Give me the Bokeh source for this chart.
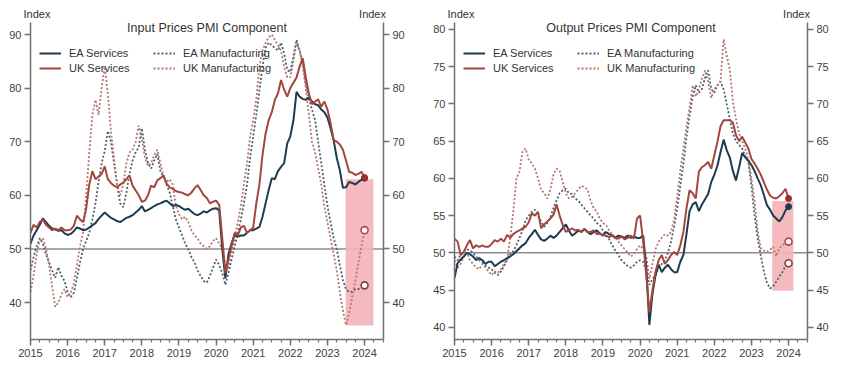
import numpy as np
import pandas as pd
from bokeh.plotting import figure
from bokeh.models import (ColumnDataSource, LinearAxis, FixedTicker, Span, Label,
                          Legend, LegendItem, Range1d, Title)
from bokeh.layouts import row
from bokeh.embed import file_html
from bokeh.resources import INLINE

# ---------------- data (monthly, Jan 2015 .. Jan 2024) ----------------
dates = pd.date_range("2015-01-01", "2024-01-01", freq="MS")
xdec = (dates.year + (dates.month - 1) / 12.0).to_numpy()

year_ticks = list(range(2015, 2025))
quarter_ticks = [2015 + q / 4 for q in range(0, 39)]

# Input prices PMI component
ea_serv_in = [
    51.0, 52.5, 53.5, 54.5, 55.7, 55.0, 54.3, 53.8, 53.6, 53.4, 53.5, 52.9,
    52.6, 52.8, 53.3, 54.0, 53.8, 53.5, 53.6, 54.0, 54.4, 54.8, 55.6, 56.2,
    56.8, 56.3, 55.8, 55.5, 55.2, 55.0, 55.4, 55.8, 56.0, 56.3, 56.8, 57.3,
    58.0, 57.0, 57.3, 57.6, 58.0, 58.3, 58.5, 58.8, 59.0, 58.5, 58.0, 58.2,
    58.0, 57.6, 57.3, 57.5, 57.0, 56.5, 56.3, 56.6, 57.0, 56.8, 57.2, 57.5,
    57.6, 57.2, 50.0, 44.5, 49.0, 51.0, 52.7, 52.3, 52.5, 52.5, 53.0, 53.5,
    53.5, 53.8, 54.1, 56.0, 58.5, 61.0, 63.2, 63.0, 64.5, 65.3, 66.0, 69.7,
    71.0, 74.0, 79.3, 78.4, 78.0, 77.8, 78.2, 77.5, 77.0, 76.8, 76.0, 75.5,
    74.5, 72.5, 70.3, 67.0, 64.7, 61.4, 61.5, 62.5, 62.3, 62.0, 62.5, 62.9,
    63.2]
uk_serv_in = [
    53.0, 54.5, 54.0, 55.0, 55.5, 54.5, 54.0, 53.5, 53.8, 53.5, 54.0, 53.5,
    53.5, 53.6, 54.3, 56.2, 55.5, 55.0, 57.5, 62.0, 64.5, 63.0, 63.5, 64.0,
    65.4, 63.0, 62.3, 61.8, 61.5, 62.0, 62.4, 63.0, 63.7, 61.8, 60.9, 60.0,
    58.8, 59.0, 60.0, 61.8, 61.5, 62.8, 63.2, 63.7, 62.2, 61.5, 61.2, 60.8,
    60.6, 60.5, 60.2, 60.0, 60.5, 61.3, 61.9, 61.0, 60.0, 59.5, 58.5, 58.8,
    59.0, 58.2, 52.0, 45.5, 48.0, 50.5, 53.0, 52.5, 54.0, 54.3, 53.0, 53.5,
    54.0, 58.5, 62.0, 67.5, 71.5, 74.0, 75.5, 77.8, 79.0, 81.5, 79.7, 78.4,
    80.0, 81.0, 82.0, 84.0, 85.6, 82.0, 79.0, 77.0, 77.5, 77.9, 76.5, 77.5,
    76.0, 73.5, 70.3, 70.0, 69.5, 68.5, 66.5, 64.4, 64.2, 63.8, 64.0, 64.4,
    63.3]
ea_mfg_in = [
    46.0, 48.5, 50.5, 52.0, 51.0, 49.0, 47.5, 46.0, 44.6, 46.6, 45.0, 44.0,
    42.0, 41.0, 41.8, 44.5, 47.5, 50.0, 51.5, 53.0, 55.5, 58.5, 62.5, 66.0,
    68.3, 72.0, 70.0, 66.0, 62.0, 58.5, 57.8, 60.5, 64.0, 66.5, 68.0, 69.0,
    72.5, 68.5, 66.0, 65.0, 66.5, 67.7, 64.5, 63.5, 62.0, 60.5, 58.0, 55.5,
    54.0, 52.5, 51.0, 50.0, 48.5, 47.5, 46.0, 45.0, 44.0, 43.7, 45.0, 46.5,
    48.0, 47.0, 45.5, 43.3, 45.5, 48.0, 50.5, 53.0, 55.5, 58.5, 62.0, 67.0,
    71.0, 75.0, 79.5, 84.0, 87.5, 88.5, 88.0, 87.5, 87.0, 88.5, 86.5, 83.4,
    83.0, 86.0, 89.0, 87.0, 85.0, 81.0, 78.0, 76.0, 74.0, 70.0, 66.0, 62.0,
    58.0, 55.0, 52.0, 50.0, 47.0, 44.2, 42.5, 42.0, 42.0, 42.5, 42.5, 42.8,
    43.2]
uk_mfg_in = [
    42.0, 45.0, 49.0, 51.5, 52.0, 50.0, 47.0, 43.0, 39.2, 40.0, 41.5, 42.5,
    41.0, 41.8, 43.5, 47.0, 50.5, 53.0, 60.0, 68.0, 75.0, 77.8, 75.0, 80.0,
    84.0, 79.0, 72.0, 67.0, 62.0, 60.0, 62.0, 66.0, 68.0, 68.5, 70.0, 73.0,
    70.5, 67.0, 65.5, 66.0, 67.5, 68.5, 66.0, 63.5, 62.5, 63.0, 62.0, 58.0,
    56.5, 55.5, 56.0, 55.0, 53.5, 52.5, 52.0, 51.0, 50.5, 50.0, 50.5, 51.5,
    52.0, 51.0, 50.0, 47.0, 46.5, 49.0, 52.0, 55.0, 58.0, 62.0, 66.0, 71.0,
    74.0, 78.0, 84.0, 87.0, 88.5, 89.5, 90.0, 89.0, 88.0, 87.0, 84.0, 82.0,
    82.0, 85.0, 88.5, 87.0, 84.0, 80.0, 75.0, 70.0, 68.0, 65.0, 62.0, 58.0,
    55.0, 52.0, 49.0, 46.0, 42.0, 38.5, 35.8, 38.0, 41.0, 44.0, 47.5, 50.5,
    53.5]

# Output prices PMI component
ea_serv_out = [
    46.6, 48.6, 49.1, 49.5, 50.0, 49.8, 49.5, 49.0, 49.3, 49.0, 48.5, 48.8,
    48.8, 48.2, 48.5, 48.8, 49.0, 49.3, 49.5, 49.8, 50.2, 50.6, 51.0, 51.3,
    52.0, 52.5, 53.1, 52.4, 51.8, 51.6, 51.9, 52.3, 52.0, 52.3, 52.8, 53.3,
    53.8, 53.0, 52.3, 52.6, 53.0, 52.8, 53.2, 52.8, 52.5, 52.8, 53.0, 52.6,
    52.3, 52.8, 52.5, 52.3, 52.0, 52.3, 52.2, 52.0, 52.3, 52.0, 52.2, 52.0,
    52.0, 52.3, 48.0, 40.3, 44.5, 47.0, 48.4, 47.4, 48.0, 48.4, 47.8, 47.4,
    47.4, 48.8, 49.7, 52.5, 55.6, 56.5, 56.8, 55.6, 56.5, 57.2, 57.9, 59.5,
    60.5, 61.7, 63.5, 65.2, 63.8, 62.8, 61.0, 59.7, 61.5, 63.4, 62.8, 62.4,
    61.8, 61.0, 60.0, 59.1, 57.8, 56.4, 55.8, 55.0, 54.6, 54.2, 54.8, 55.7,
    56.2]
uk_serv_out = [
    51.9, 51.5, 49.7, 50.1, 51.0, 51.7, 50.6, 51.0, 50.8, 51.0, 50.8, 50.8,
    51.2, 51.7, 51.5, 51.9, 51.5, 52.4, 52.0, 52.5, 52.8, 53.0, 53.3, 53.5,
    54.1, 55.3, 55.0, 55.5, 53.3, 53.8, 54.2, 54.6, 55.1, 56.5, 55.0, 53.7,
    52.8, 53.0, 53.3, 53.0, 53.1, 52.8, 53.2, 52.8, 52.8, 53.0, 52.5, 52.6,
    52.4, 52.3, 52.1, 52.4, 52.0, 51.9, 52.2, 51.8, 52.0, 52.3, 51.9, 54.6,
    55.0, 51.5, 47.0, 42.0, 45.0, 47.5, 49.0, 49.7, 48.5, 49.0, 49.7, 50.1,
    49.7, 51.0, 52.8, 56.0, 58.4, 58.0, 57.3, 60.9, 61.5, 61.8, 62.2, 61.3,
    63.1, 64.9, 67.0, 67.8, 67.8, 67.8, 67.5, 65.8, 65.0, 65.6, 64.8, 64.0,
    62.6, 62.0, 61.3, 60.5, 59.5, 58.5, 57.7, 57.4, 57.3, 57.6, 58.0, 58.6,
    57.3]
ea_mfg_out = [
    49.5, 49.0, 49.8, 50.2, 50.5, 50.3, 50.0, 49.5, 49.0, 48.7, 48.3, 48.0,
    47.8, 47.3, 47.0, 47.5, 48.2, 49.0, 49.8, 50.2, 51.0, 52.0, 53.0, 54.4,
    55.0, 55.5, 55.8, 55.0, 54.2, 53.5, 54.0, 54.8, 56.0, 57.0, 58.0, 58.4,
    58.6, 58.0, 57.9, 57.3, 57.0, 56.5, 56.0, 55.5, 55.0, 54.6, 54.0, 53.7,
    53.0, 52.3, 51.8, 51.0, 50.3, 49.7, 49.0, 48.6, 48.2, 48.0, 48.3, 48.8,
    49.0, 48.8, 47.5, 45.7, 46.5, 47.0, 48.0, 48.5, 49.0, 50.0, 51.5, 53.5,
    56.0, 59.0, 62.0, 65.5, 68.5, 71.0, 72.5, 71.5, 72.0, 73.5, 74.5, 72.0,
    71.5, 72.5, 73.0, 72.0, 70.0, 68.0, 66.0, 65.0, 64.5, 64.0, 63.0, 62.2,
    59.0, 55.0, 52.0, 49.7, 47.5, 46.0, 45.2, 45.5, 46.1, 46.8, 47.4, 48.2,
    48.6]
uk_mfg_out = [
    49.0, 48.0, 48.5, 49.5, 50.0, 49.0, 48.5, 48.0, 47.8, 48.5, 48.0, 47.5,
    47.0, 47.5, 47.3, 47.8, 48.5, 49.0, 52.0, 55.5, 60.0, 60.9, 63.6, 64.0,
    62.5, 62.0, 61.3, 60.0, 58.5, 58.0, 57.3, 58.5, 60.5, 61.3, 61.0, 59.5,
    58.0, 57.3, 57.5, 58.0, 58.5, 59.0, 58.8, 58.5, 57.0, 56.0, 55.5, 54.6,
    54.0, 53.7, 53.0, 52.5, 52.0, 51.5, 51.0, 50.5, 50.0, 49.5, 49.8, 50.5,
    51.0, 50.5, 49.5, 46.5, 48.5, 50.5, 51.5, 52.0, 52.5, 52.3, 52.8, 54.5,
    57.5, 61.0, 64.0, 67.0, 69.5, 72.5, 71.0, 72.0, 73.4, 74.5, 73.0, 70.8,
    72.0, 72.5, 73.0, 78.7, 76.5, 74.6, 70.3, 68.0, 66.0, 65.0, 64.0, 62.5,
    60.0, 57.0, 53.0, 50.6, 50.3, 50.1, 50.4, 50.8, 49.5, 50.6, 51.0, 51.3,
    51.5]

# shaded recent-range boxes [x0, x1], [y0, y1]
in_shade_x = [2023.49, 2024.24]
in_shade_y = [35.7, 63.0]
out_shade_x = [2023.56, 2024.13]
out_shade_y = [44.9, 56.95]

in_yticks = [40, 50, 60, 70, 80, 90]
out_yticks = [40, 45, 50, 55, 60, 65, 70, 75, 80]
axis_caption = "Index"

# ---------------- styling ----------------
FONT = "Liberation Sans"
C_EA_S = "#1f3b4f"
C_UK_S = "#a3463f"
C_EA_M = "#4b6170"
C_UK_M = "#b5776f"
AX = "#707070"
SHADE = "#f4b3b7"
NBSP = "\u00a0"


def style_axis(ax):
    ax.axis_line_color = AX
    ax.axis_line_width = 1.5
    ax.major_tick_line_color = AX
    ax.major_tick_line_width = 1.5
    ax.minor_tick_line_color = AX
    ax.minor_tick_line_width = 1.2
    ax.major_tick_in = 0
    ax.major_tick_out = 6
    ax.minor_tick_in = 0
    ax.minor_tick_out = 3
    ax.major_label_text_font = FONT
    ax.major_label_text_font_size = "11px"
    ax.major_label_text_color = "#3f3f3f"
    ax.major_label_standoff = 3


def make_panel(title, series, yr, yticks, shade_x, shade_y, left_border, right_border):
    ea_s, uk_s, ea_m, uk_m = series
    head = Title(text=axis_caption + NBSP * 101 + axis_caption, align="left", offset=-7,
                 text_font=FONT, text_font_size="11px", text_font_style="normal",
                 text_color="#333333", standoff=5, vertical_align="bottom")
    p = figure(frame_width=353, frame_height=317,
               x_range=Range1d(2015, 2024.51), y_range=Range1d(*yr),
               output_backend="svg", toolbar_location=None, title=head,
               min_border_left=left_border, min_border_right=right_border,
               min_border_top=22, min_border_bottom=22)
    p.xgrid.visible = False
    p.ygrid.visible = False
    p.outline_line_color = None
    p.background_fill_color = "white"
    p.border_fill_color = "white"

    p.xaxis.ticker = FixedTicker(ticks=year_ticks, minor_ticks=quarter_ticks)
    p.yaxis.ticker = FixedTicker(ticks=yticks)
    style_axis(p.xaxis[0])
    style_axis(p.yaxis[0])
    rax = LinearAxis(ticker=FixedTicker(ticks=yticks))
    style_axis(rax)
    p.add_layout(rax, "right")

    # shaded range
    p.quad(left=[shade_x[0]], right=[shade_x[1]], bottom=[shade_y[0]], top=[shade_y[1]],
           fill_color=SHADE, fill_alpha=0.9, line_color=None)

    p.add_layout(Span(location=50, dimension="width", line_color="#8c8c8c",
                      line_width=1.5, level="underlay"))

    src = ColumnDataSource(dict(x=xdec, ea_s=ea_s, uk_s=uk_s, ea_m=ea_m, uk_m=uk_m))
    r_eam = p.line("x", "ea_m", source=src, line_color=C_EA_M, line_width=1.8, line_dash="2 2")
    r_ukm = p.line("x", "uk_m", source=src, line_color=C_UK_M, line_width=1.8, line_dash="2 2")
    r_eas = p.line("x", "ea_s", source=src, line_color=C_EA_S, line_width=2.0)
    r_uks = p.line("x", "uk_s", source=src, line_color=C_UK_S, line_width=2.0)

    # latest observations
    p.scatter(x=[xdec[-1]], y=[ea_m[-1]], size=7, marker="circle", fill_color="white",
              line_color="#8a3b3b", line_width=1.6)
    p.scatter(x=[xdec[-1]], y=[uk_m[-1]], size=7, marker="circle", fill_color="white",
              line_color="#b04848", line_width=1.6)
    p.scatter(x=[xdec[-1]], y=[ea_s[-1]], size=6, marker="circle", fill_color=C_EA_S,
              line_color=C_EA_S)
    p.scatter(x=[xdec[-1]], y=[uk_s[-1]], size=6, marker="circle", fill_color="#9e2f2f",
              line_color="#9e2f2f")

    def legend(items, xloc):
        lg = Legend(items=items, location=(xloc, 264), orientation="vertical")
        lg.background_fill_alpha = 0
        lg.border_line_color = None
        lg.padding = 0
        lg.margin = 0
        lg.spacing = 1
        lg.glyph_width = 22
        lg.glyph_height = 14
        lg.label_height = 14
        lg.label_standoff = 8
        lg.label_text_font = FONT
        lg.label_text_font_size = "11px"
        lg.label_text_color = "#333333"
        lg.label_text_baseline = "middle"
        return lg

    p.add_layout(legend([LegendItem(label="EA Services", renderers=[r_eas]),
                         LegendItem(label="UK Services", renderers=[r_uks])], 9))
    p.add_layout(legend([LegendItem(label="EA Manufacturing", renderers=[r_eam]),
                         LegendItem(label="UK Manufacturing", renderers=[r_ukm])], 123))

    top = yr[1]
    p.add_layout(Label(x=(2015 + 2024.51) / 2, y=top, y_offset=-5, text=title,
                       text_font=FONT, text_font_size="12.5px", text_color="#333333",
                       text_align="center", text_baseline="middle"))
    return p


p1 = make_panel("Input Prices PMI Component",
                (ea_serv_in, uk_serv_in, ea_mfg_in, uk_mfg_in),
                (33.1, 92.24), in_yticks, in_shade_x, in_shade_y, 30, 41)
p2 = make_panel("Output Prices PMI Component",
                (ea_serv_out, uk_serv_out, ea_mfg_out, uk_mfg_out),
                (38.35, 80.94), out_yticks, out_shade_x, out_shade_y, 30, 25)

layout = row(p1, p2)
open("out.html", "w").write(file_html(layout, INLINE))
